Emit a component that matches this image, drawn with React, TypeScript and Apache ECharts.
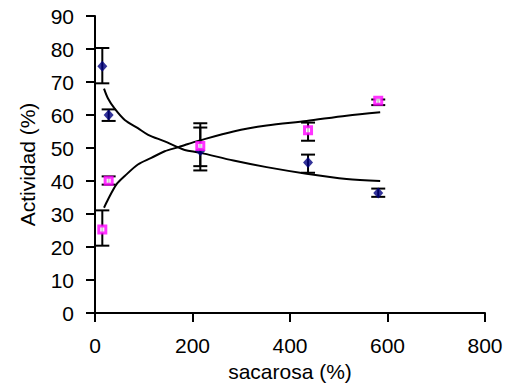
import React, { useEffect, useRef } from "react";
import * as echarts from "echarts";

// Measured points (x = sacarosa %, y = actividad %)
const xValues = [15, 28, 216, 437, 581];
const blueValues = [74.8, 60.0, 49.2, 45.6, 36.4];
const pinkValues = [25.3, 40.1, 50.6, 55.4, 64.3];

// Error bar ranges [low, high]
const blueErrLow = [69.6, 58.2, 43.2, 42.5, 35.2];
const blueErrHigh = [80.3, 61.7, 56.2, 48.0, 37.7];
const pinkErrLow = [20.4, 38.9, 44.5, 52.2, 63.0];
const pinkErrHigh = [31.1, 41.4, 57.5, 57.7, 64.7];

// Trend curves
const blueTrendX = [18.5, 26.7, 40, 61, 88, 109, 143, 167, 184, 215, 284, 352, 434, 516, 585];
const blueTrendY = [68.0, 65.0, 62.0, 58.5, 56.0, 54.0, 52.0, 50.4, 49.4, 48.6, 46.2, 44.2, 42.2, 40.6, 40.0];
const pinkTrendX = [18.5, 26.7, 43.7, 61, 88, 115.5, 143, 170, 191, 215, 284, 352, 434, 516, 585];
const pinkTrendY = [31.9, 34.4, 38.9, 41.5, 45.0, 47.0, 49.0, 50.2, 51.2, 52.3, 55.0, 56.8, 58.2, 59.8, 60.8];

const xTicks = [0, 200, 400, 600, 800];
const yTicks = [0, 10, 20, 30, 40, 50, 60, 70, 80, 90];

const FONT = "'Liberation Sans', Arial, sans-serif";

export default function App() {
  const ref = useRef<HTMLDivElement>(null);

  useEffect(() => {
    document.body.style.margin = "0";
    const chart = echarts.init(ref.current!, null, { renderer: "svg" });

    const errData = (lows: number[], highs: number[]) =>
      xValues.map((x, i) => [x, lows[i], highs[i]]);

    const errRender = (params: any, api: any) => {
      const x = api.value(0);
      const lo = api.coord([x, api.value(1)]);
      const hi = api.coord([x, api.value(2)]);
      const hw = 7;
      const style = { stroke: "#000", lineWidth: 2 };
      return {
        type: "group",
        children: [
          { type: "line", shape: { x1: lo[0], y1: lo[1], x2: hi[0], y2: hi[1] }, style },
          { type: "line", shape: { x1: lo[0] - hw, y1: lo[1], x2: lo[0] + hw, y2: lo[1] }, style },
          { type: "line", shape: { x1: hi[0] - hw, y1: hi[1], x2: hi[0] + hw, y2: hi[1] }, style },
        ],
      };
    };

    chart.setOption({
      animation: false,
      textStyle: { fontFamily: FONT },
      grid: { left: 95, right: 25, top: 16, bottom: 71 },
      xAxis: {
        type: "value",
        min: 0,
        max: 800,
        interval: 200,
        name: "sacarosa (%)",
        nameLocation: "middle",
        nameGap: 48,
        nameTextStyle: { fontSize: 21, color: "#000", fontFamily: FONT },
        axisLine: { lineStyle: { color: "#000", width: 2 } },
        axisTick: { show: true, length: 9, lineStyle: { color: "#000", width: 2 } },
        axisLabel: {
          fontSize: 21,
          color: "#000",
          margin: 22,
          fontFamily: FONT,
          formatter: (v: number) => (xTicks.includes(v) ? String(v) : ""),
        },
        splitLine: { show: false },
      },
      yAxis: {
        type: "value",
        min: 0,
        max: 90,
        interval: 10,
        name: "Actividad (%)",
        nameLocation: "middle",
        nameGap: 57,
        nameTextStyle: { fontSize: 21, color: "#000", fontFamily: FONT },
        axisLine: { show: true, lineStyle: { color: "#000", width: 2 } },
        axisTick: { show: true, length: 9, lineStyle: { color: "#000", width: 2 } },
        axisLabel: {
          fontSize: 21,
          color: "#000",
          margin: 21,
          fontFamily: FONT,
          formatter: (v: number) => (yTicks.includes(v) ? String(v) : ""),
        },
        splitLine: { show: false },
      },
      series: [
        {
          type: "line",
          data: blueTrendX.map((x, i) => [x, blueTrendY[i]]),
          smooth: 0.3,
          showSymbol: false,
          lineStyle: { color: "#000", width: 2 },
          z: 2,
        },
        {
          type: "line",
          data: pinkTrendX.map((x, i) => [x, pinkTrendY[i]]),
          smooth: 0.3,
          showSymbol: false,
          lineStyle: { color: "#000", width: 2 },
          z: 2,
        },
        {
          type: "custom",
          renderItem: errRender,
          data: errData(blueErrLow, blueErrHigh),
          z: 3,
        },
        {
          type: "custom",
          renderItem: errRender,
          data: errData(pinkErrLow, pinkErrHigh),
          z: 3,
        },
        {
          type: "scatter",
          data: xValues.map((x, i) => [x, blueValues[i]]),
          symbol: "diamond",
          symbolSize: [10, 11],
          itemStyle: { color: "#000080" },
          z: 4,
        },
        {
          type: "scatter",
          data: xValues.map((x, i) => [x, pinkValues[i]]),
          symbol: "rect",
          symbolSize: 7,
          itemStyle: { color: "#ffffff", borderColor: "#ff00ff", borderWidth: 3 },
          z: 4,
        },
      ],
    });

    return () => chart.dispose();
  }, []);

  return <div ref={ref} style={{ width: 510, height: 387 }} />;
}
